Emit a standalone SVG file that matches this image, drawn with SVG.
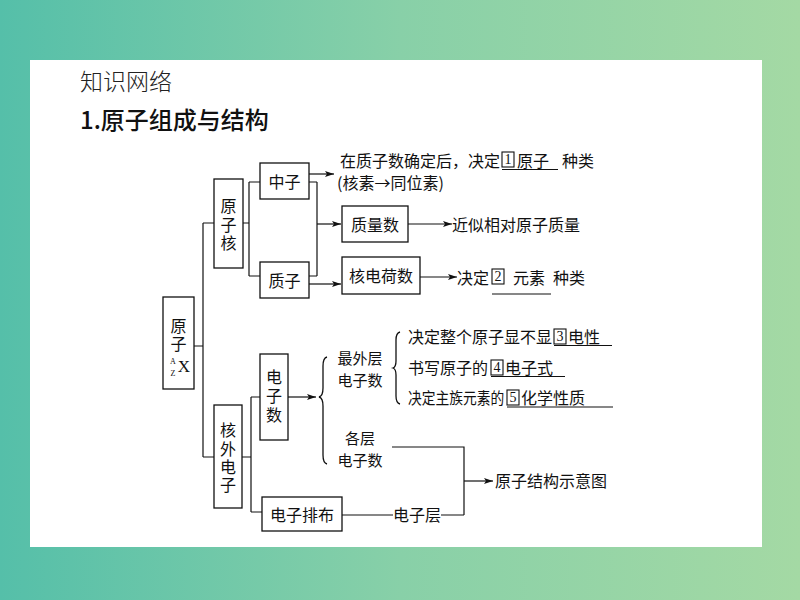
<svg xmlns="http://www.w3.org/2000/svg" width="800" height="600" viewBox="0 0 800 600">
<defs>
<linearGradient id="bg" x1="0" y1="0" x2="1" y2="0">
<stop offset="0" stop-color="#55bfa9"/>
<stop offset="0.5" stop-color="#88d0a8"/>
<stop offset="1" stop-color="#a4d9a4"/>
</linearGradient>
<marker id="ar" markerWidth="10" markerHeight="8" refX="9" refY="4" orient="auto" markerUnits="userSpaceOnUse">
<path d="M0,1 L9,4 L0,7 L2,4 Z" fill="#111"/>
</marker>
<style>
.t{font-family:"Noto Sans CJK SC","Noto Sans",sans-serif;font-size:16px;fill:#111;dominant-baseline:central}
.s{font-size:15px}
.m{text-anchor:middle}
.v{writing-mode:vertical-rl;text-anchor:middle}
.b{fill:#fff;stroke:#111;stroke-width:1.3}
.n{fill:none;stroke:#111;stroke-width:1.3}
.l{fill:none;stroke:#111;stroke-width:1.2}
.u{stroke:#111;stroke-width:1.2}
.nb{fill:none;stroke:#111;stroke-width:1.1}
.d{font-family:"Liberation Serif",serif;font-size:14px;fill:#111;text-anchor:middle;dominant-baseline:central}
</style>
</defs>
<rect width="800" height="600" fill="url(#bg)"/>
<rect x="30" y="60" width="732" height="487" fill="#fff"/>
<text x="80" y="80" font-family="Noto Sans CJK SC,sans-serif" font-size="23" font-weight="300" fill="#222" dominant-baseline="central">知识网络</text>
<text x="80" y="118" font-family="Noto Sans CJK SC,sans-serif" font-size="24" font-weight="500" fill="#111" dominant-baseline="central">1.原子组成与结构</text>

<g id="connectors">
<path class="l" d="M194,346 H203 M203,223 V457 M203,223 H214 M203,457 H214"/>
<path class="l" d="M243,223 H249 M249,182 V276 M249,182 H260 M249,276 H260"/>
<path class="l" d="M309,182 H317 M309,276 H317 M317,182 V276"/>
<path class="l" d="M309,174 H334" marker-end="url(#ar)"/>
<path class="l" d="M317,224 H341" marker-end="url(#ar)"/>
<path class="l" d="M309,284 H341" marker-end="url(#ar)"/>
<path class="l" d="M408,224 H452" marker-end="url(#ar)"/>
<path class="l" d="M420,277 H457" marker-end="url(#ar)"/>
<path class="l" d="M242,457 H251 M251,397 V512 M251,397 H260 M251,512 H262"/>
<path class="l" d="M288,397 H316" marker-end="url(#ar)"/>
<path class="l" d="M392,447 H464 V515 M342,515 H393 M441,515 H464"/>
<path class="l" d="M464,481 H493" marker-end="url(#ar)"/>
<path class="n" d="M327,357 Q323,358 323,366 V388 Q323,396 319,397 Q323,398 323,406 V455 Q323,463 327,464"/>
<path class="n" d="M400,332 Q396,333 396,340 V361 Q396,367 393,368 Q396,369 396,375 V396 Q396,403 400,404"/>
</g>

<g id="atom">
<rect class="b" x="163" y="297" width="31" height="92"/>
<text class="t v" x="178.5" y="336" letter-spacing="2">原子</text>
<text x="173" y="361" font-family="Liberation Serif,serif" font-size="8" fill="#111" text-anchor="middle" dominant-baseline="central">A</text>
<text x="173" y="373" font-family="Liberation Serif,serif" font-size="8" fill="#111" text-anchor="middle" dominant-baseline="central">Z</text>
<text x="184" y="366" font-family="Liberation Serif,serif" font-size="17" fill="#111" text-anchor="middle" dominant-baseline="central">X</text>
</g>

<g id="nucleus">
<rect class="b" x="214" y="179" width="29" height="89"/>
<text class="t v" x="228.5" y="226" letter-spacing="2.5">原子核</text>
</g>

<g id="neutron">
<rect class="b" x="260" y="163" width="49" height="36"/>
<text class="t m" x="284.5" y="181">中子</text>
</g>
<g id="proton">
<rect class="b" x="260" y="262" width="49" height="36"/>
<text class="t m" x="284.5" y="280">质子</text>
</g>

<g id="neutron-text">
<text class="t" x="340" y="160">在质子数确定后，决定</text>
<rect class="nb" x="502" y="152" width="12" height="15"/>
<text class="d" x="508" y="159.5">1</text>
<text class="t" x="517" y="160">原子</text>
<line class="u" x1="502" y1="169.5" x2="558" y2="169.5"/>
<text class="t" x="562" y="160">种类</text>
<text class="t" x="337" y="182">(核素→同位素)</text>
</g>

<g id="massnum">
<rect class="b" x="342" y="206" width="66" height="36"/>
<text class="t m" x="375" y="224">质量数</text>
</g>
<g id="massnum-text">
<text class="t" x="452" y="224">近似相对原子质量</text>
</g>

<g id="charge">
<rect class="b" x="342" y="257" width="78" height="37"/>
<text class="t m" x="381" y="275">核电荷数</text>
</g>
<g id="charge-text">
<text class="t" x="457" y="277">决定</text>
<rect class="nb" x="492" y="269" width="12" height="15"/>
<text class="d" x="498" y="276.5">2</text>
<text class="t" x="513" y="277">元素</text>
<line class="u" x1="492" y1="294" x2="551" y2="294"/>
<text class="t" x="553" y="277">种类</text>
</g>

<g id="extranuclear">
<rect class="b" x="214" y="405" width="28" height="103"/>
<text class="t v" x="228" y="459" letter-spacing="2.3">核外电子</text>
</g>

<g id="electronnum">
<rect class="b" x="260" y="354" width="28" height="86"/>
<text class="t v" x="274" y="397.5" letter-spacing="3">电子数</text>
</g>

<g id="outer">
<text class="t s m"><tspan x="360" y="357">最外层</tspan><tspan x="360" y="379">电子数</tspan></text>
</g>
<g id="outer-items">
<text class="t" x="408" y="336" textLength="144" lengthAdjust="spacingAndGlyphs">决定整个原子显不显</text>
<rect class="nb" x="554" y="329" width="12" height="15"/>
<text class="d" x="560" y="336.5">3</text>
<text class="t" x="568" y="336">电性</text>
<line class="u" x1="554" y1="345.5" x2="612" y2="345.5"/>
<text class="t" x="408" y="367" textLength="80" lengthAdjust="spacingAndGlyphs">书写原子的</text>
<rect class="nb" x="491" y="360" width="12" height="15"/>
<text class="d" x="497" y="367.5">4</text>
<text class="t" x="505" y="367">电子式</text>
<line class="u" x1="491" y1="376.5" x2="565" y2="376.5"/>
<text class="t" transform="translate(408,397) scale(0.86,1)">决定主族元素的</text>
<rect class="nb" x="507" y="390" width="12" height="15"/>
<text class="d" x="513" y="397.5">5</text>
<text class="t" x="521" y="397">化学性质</text>
<line class="u" x1="507" y1="407" x2="613" y2="407"/>
</g>

<g id="layers">
<text class="t s m"><tspan x="360" y="437">各层</tspan><tspan x="360" y="459">电子数</tspan></text>
</g>

<g id="arrangement">
<rect class="b" x="262" y="497" width="80" height="34"/>
<text class="t m" x="302" y="514">电子排布</text>
</g>
<g id="shell">
<text class="t m" x="417" y="514">电子层</text>
</g>
<g id="diagram-text">
<text class="t" x="495" y="480">原子结构示意图</text>
</g>
</svg>
